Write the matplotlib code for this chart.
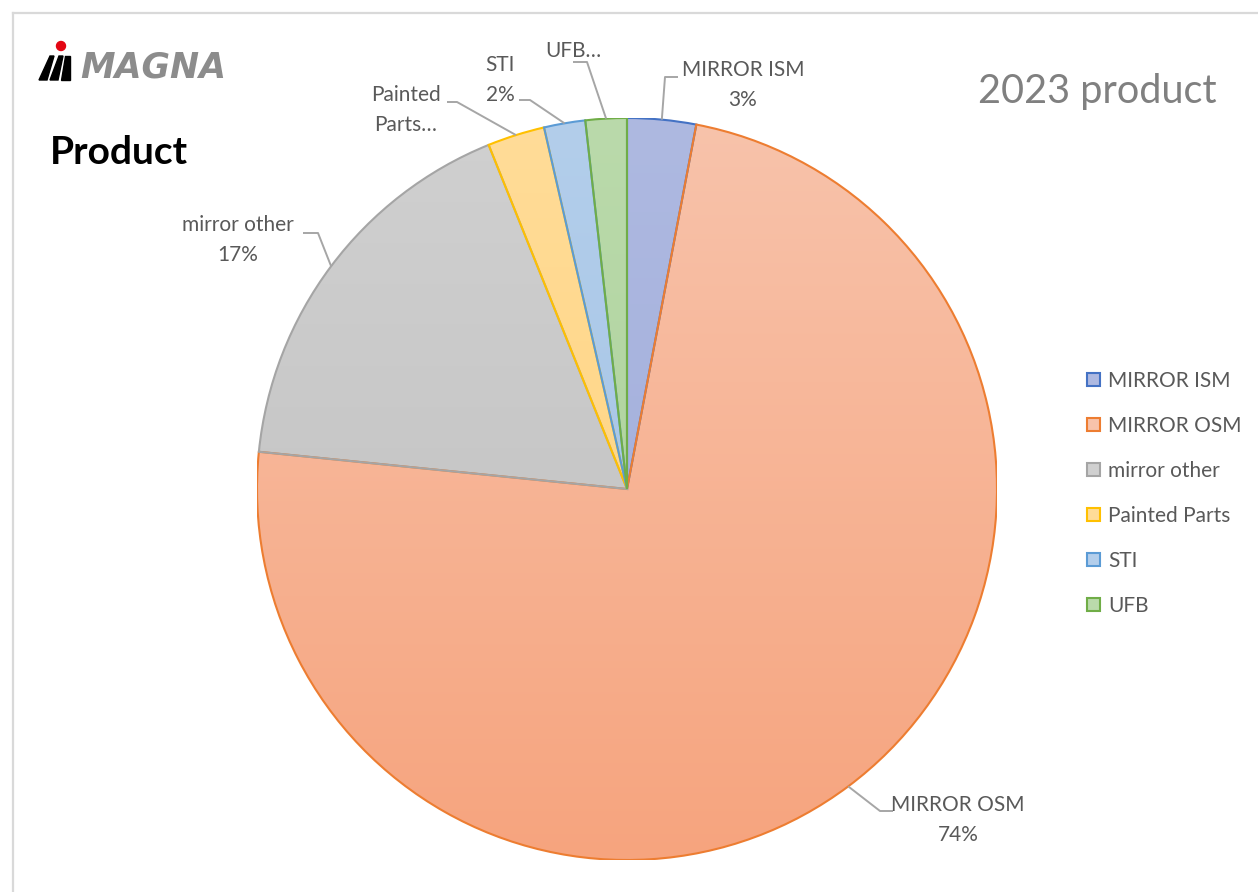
import numpy as np
import matplotlib
matplotlib.use("Agg")
import matplotlib.pyplot as plt
from matplotlib.patches import Polygon, Circle, Rectangle, Wedge
from matplotlib.colors import LinearSegmentedColormap

# ===== DATA =====
categories = ["MIRROR ISM", "MIRROR OSM", "mirror other", "Painted Parts", "STI", "UFB"]
shares = [3.0, 73.6, 17.3, 2.5, 1.8, 1.8]
slice_labels = ["MIRROR ISM\n3%", "MIRROR OSM\n74%", "mirror other\n17%", "Painted\nParts\u2026", "STI\n2%", "UFB\u2026"]

# ===== STYLE =====
edge_colors = ["#4472C4", "#ED7D31", "#A5A5A5", "#FFC000", "#5B9BD5", "#70AD47"]
light_colors = ["#AEB9E1", "#F8C3AB", "#D0D0D0", "#FFDC98", "#B3CEEB", "#BADAAB"]
dark_colors = ["#9EABD9", "#F6A47E", "#BEBEBE", "#FFD27A", "#A0C1E4", "#A9CF96"]

# text position (center), elbow and end of leader line, in pixels
label_pos = [(743, 85), (958, 820), (238, 240), (406, 110), (500, 80), (573, 51)]
elbows = [(665, 77), (880, 811), (318, 233), (457, 102), (530, 100), (587, 62)]
ends = [(678, 77), (893, 811), (303, 233), (447, 102), (519, 100), (573, 62)]

W, H = 1258, 892
text_gray = "#595959"
font = "Lato"

fig = plt.figure(figsize=(W / 100, H / 100), dpi=100)
fig.patch.set_facecolor("white")

# pie axes: spans pixels x 257..997, y 118..860
ax = fig.add_axes([257 / W, 1 - 860 / H, 740 / W, 742 / H])
wedges, _ = ax.pie(shares, startangle=90, counterclock=False, radius=1,
                   colors=light_colors, wedgeprops=dict(linewidth=0))

# vertical gradient inside each slice, then the slice outline on top
for i, w in enumerate(wedges):
    cmap = LinearSegmentedColormap.from_list("g%d" % i, [dark_colors[i], light_colors[i]])
    grad = np.linspace(0, 1, 256).reshape(-1, 1)
    im = ax.imshow(grad, cmap=cmap, extent=[-1, 1, -1, 1], origin="lower",
                   aspect="auto", zorder=2)
    im.set_clip_path(w)
for i, w in enumerate(wedges):
    outline = Wedge(w.center, w.r, w.theta1, w.theta2, fill=False,
                    edgecolor=edge_colors[i], linewidth=1.5, zorder=3 + i * 0.01)
    ax.add_patch(outline)
ax.set_xlim(-1, 1)
ax.set_ylim(-1, 1)
ax.set_aspect("auto")
ax.axis("off")

# overlay in pixel coordinates for texts, leaders, logo and border
ov = fig.add_axes([0, 0, 1, 1], zorder=5)
ov.set_xlim(0, W)
ov.set_ylim(H, 0)
ov.axis("off")

fig.canvas.draw()
to_px = ax.transData + ov.transData.inverted()
for i, w in enumerate(wedges):
    mid = np.deg2rad((w.theta1 + w.theta2) / 2)
    rim = to_px.transform((np.cos(mid), np.sin(mid)))
    xs = [rim[0], elbows[i][0], ends[i][0]]
    ys = [rim[1], elbows[i][1], ends[i][1]]
    ov.plot(xs, ys, color="#A6A6A6", linewidth=1.4, solid_capstyle="butt")
    ov.text(label_pos[i][0], label_pos[i][1], slice_labels[i], ha="center", va="center",
            multialignment="center", fontsize=15, color=text_gray, family=font,
            linespacing=1.6)

# titles
ov.text(50, 153, "Product", fontsize=28, fontweight="bold", color="black",
        family=font, ha="left", va="center")
ov.text(1217, 91, "2023 product", fontsize=28.5, color="#808080", family=font,
        ha="right", va="center")

# logo
ov.text(80, 67, "MAGNA", fontsize=25, fontweight="bold", style="italic",
        color="#8C8C8C", family="DejaVu Sans", ha="left", va="center")
for pts in [[(39, 80), (47, 80), (54, 56), (50, 56)],
            [(50, 80), (58, 80), (63, 56), (59, 56)],
            [(61, 80), (70, 80), (70, 56), (65, 56)]]:
    ov.add_patch(Polygon(pts, closed=True, color="black"))
ov.add_patch(Circle((61, 46), 4.5, color="#E30613"))

# chart border
ov.plot([13, 13], [H, 13], color="#D9D9D9", linewidth=1.6)
ov.plot([13, W], [13, 13], color="#D9D9D9", linewidth=1.6)

# legend
handles = [Rectangle((0, 0), 1, 1, facecolor=light_colors[i], edgecolor=edge_colors[i],
                     linewidth=1.5) for i in range(len(categories))]
leg = fig.legend(handles, categories, loc="center left",
                 bbox_to_anchor=(1087 / W, 1 - 493.5 / H), frameon=False,
                 prop={"family": font, "size": 15}, labelcolor="#595959",
                 handlelength=0.62, handleheight=0.62, handletextpad=0.4,
                 labelspacing=1.2, borderpad=0, borderaxespad=0)

fig.savefig("out.png", dpi=100)
